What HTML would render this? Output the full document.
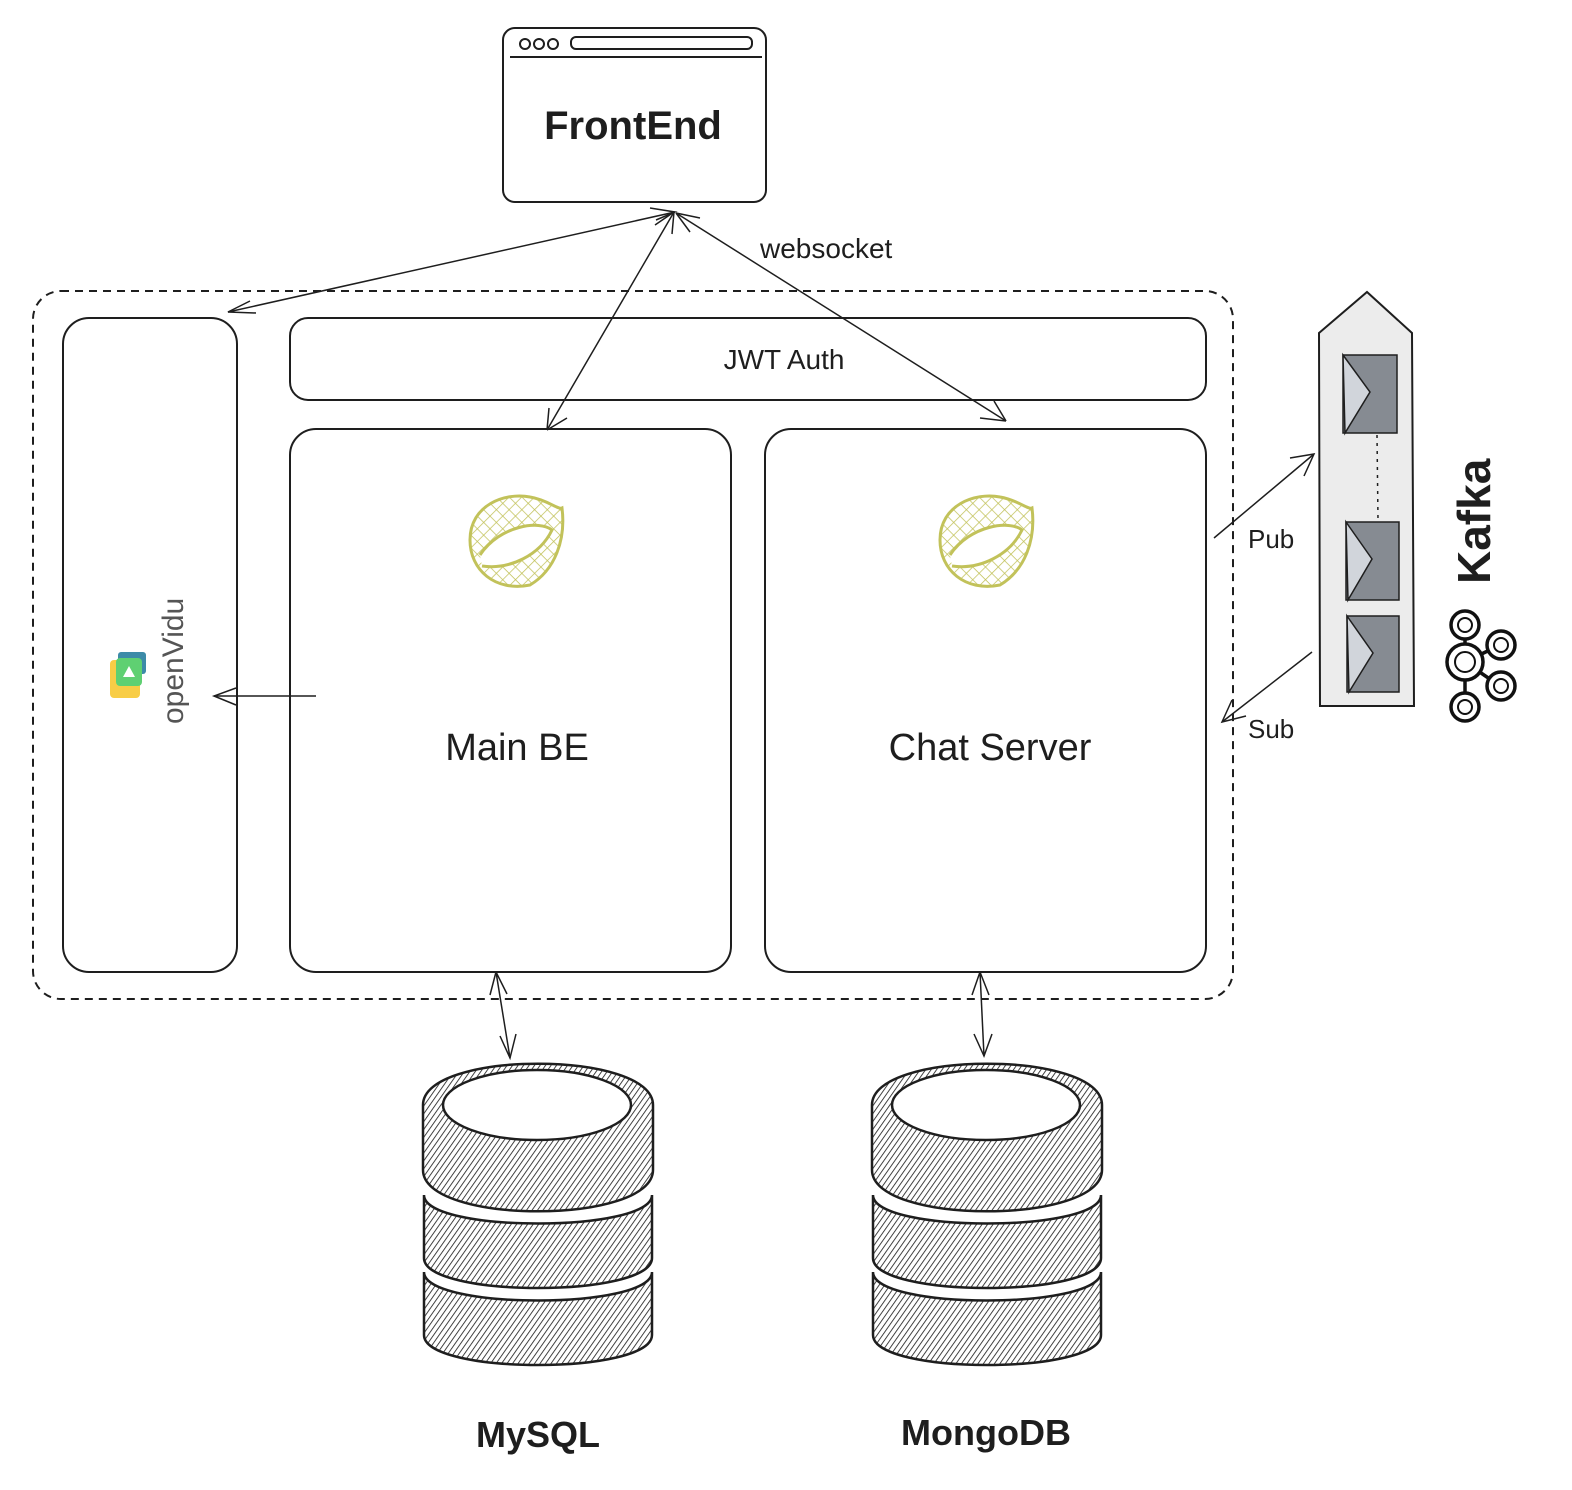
<!DOCTYPE html>
<html><head><meta charset="utf-8"><style>
html,body{margin:0;padding:0;background:#fff;}
svg{display:block;}
text{font-family:"Liberation Sans","DejaVu Sans",sans-serif;fill:#1e1e1e;}
</style></head><body>
<svg width="1572" height="1490" viewBox="0 0 1572 1490" xmlns="http://www.w3.org/2000/svg">
<defs>
<pattern id="h" patternUnits="userSpaceOnUse" width="4.5" height="4.5" patternTransform="rotate(35)">
<rect width="4.5" height="4.5" fill="#fff"/>
<line x1="0" y1="0" x2="0" y2="4.5" stroke="#222" stroke-width="1.7"/>
</pattern>
<pattern id="g" patternUnits="userSpaceOnUse" width="9" height="9" patternTransform="rotate(45)">
<line x1="0" y1="0" x2="0" y2="9" stroke="#c2c25a" stroke-width="1.5"/>
<line x1="0" y1="0" x2="9" y2="0" stroke="#c2c25a" stroke-width="1.5"/>
</pattern>
</defs>
<g fill="none" stroke="#1e1e1e" stroke-width="2">
<rect x="503" y="28" width="263" height="174" rx="12" fill="#fff"/>
<line x1="510" y1="57" x2="762" y2="57"/>
<circle cx="525" cy="44" r="5"/><circle cx="539" cy="44" r="5"/><circle cx="553" cy="44" r="5"/>
<rect x="571" y="37" width="181" height="12" rx="5"/>
<rect x="33" y="291" width="1200" height="708" rx="28" stroke-dasharray="8 6"/>
<rect x="63" y="318" width="174" height="654" rx="26"/>
<rect x="290" y="318" width="916" height="82" rx="18"/>
<rect x="290" y="429" width="441" height="543" rx="26"/>
<rect x="765" y="429" width="441" height="543" rx="26"/>
</g>
<g fill="none" stroke="#1e1e1e" stroke-width="1.5">
<path d="M228 312 L675 212"/><path d="M250 301 L228 312 L256 313"/><path d="M650 208 L675 212 L656 220"/>
<path d="M547 430 L674 212"/><path d="M547 430 L549 408 M547 430 L567 418"/><path d="M674 212 L672 234 M674 212 L655 225"/>
<path d="M676 213 L1006 421"/><path d="M1006 421 L980 418 M1006 421 L994 401"/><path d="M676 213 L700 218 M676 213 L690 232"/>
<path d="M316 696 L214 696"/><path d="M236 688 L214 696 L236 705"/>
<path d="M496 972 L510 1058"/><path d="M500 1036 L510 1058 L516 1034 M496 972 L490 995 M496 972 L507 994"/>
<path d="M980 972 L984 1056"/><path d="M974 1034 L984 1056 L992 1034 M980 972 L972 995 M980 972 L989 995"/>
<path d="M1214 538 L1314 454"/><path d="M1290 458 L1314 454 L1304 476"/>
<path d="M1312 652 L1222 722"/><path d="M1232 700 L1222 722 L1246 716"/>
</g>
<text x="633" y="139" font-size="40" text-anchor="middle" font-weight="bold">FrontEnd</text>
<text x="760" y="258" font-size="28">websocket</text>
<text x="784" y="369" font-size="28" text-anchor="middle">JWT Auth</text>
<text x="517" y="760" font-size="38" text-anchor="middle">Main BE</text>
<text x="990" y="760" font-size="38" text-anchor="middle">Chat Server</text>
<text x="1248" y="548" font-size="26">Pub</text>
<text x="1248" y="738" font-size="26">Sub</text>
<text x="538" y="1447" font-size="36" text-anchor="middle" font-weight="bold">MySQL</text>
<text x="986" y="1445" font-size="36" text-anchor="middle" font-weight="bold">MongoDB</text>
<rect x="110" y="660" width="30" height="38" rx="4" fill="#f8cd46"/>
<rect x="118" y="652" width="28" height="22" rx="3" fill="#3d8ba8"/>
<rect x="116" y="658" width="26" height="28" rx="4" fill="#5fd072"/>
<path d="M123 677 L129 666 L135 677Z" fill="#fff"/>
<text transform="translate(183 724) rotate(-90)" font-size="30" style="fill:#555">openVidu</text>
<g>
<path d="M470 540 C470 505 505 492 530 497 C548 500 558 510 562 508 C566 540 555 570 530 585 C495 592 470 570 470 540Z" fill="url(#g)" stroke="#c2c25a" stroke-width="3"/>
<path d="M480 555 C500 525 540 520 552 530 C540 555 510 570 482 566" fill="#fff" stroke="#c2c25a" stroke-width="3"/>
</g>
<g transform="translate(470 0)">
<path d="M470 540 C470 505 505 492 530 497 C548 500 558 510 562 508 C566 540 555 570 530 585 C495 592 470 570 470 540Z" fill="url(#g)" stroke="#c2c25a" stroke-width="3"/>
<path d="M480 555 C500 525 540 520 552 530 C540 555 510 570 482 566" fill="#fff" stroke="#c2c25a" stroke-width="3"/>
</g>
<path d="M1319 333 L1367 292 L1412 333 L1414 706 L1320 706Z" fill="#ececec" stroke="#1e1e1e" stroke-width="2"/>
<g stroke="#1e1e1e" stroke-width="1.5">
<rect x="1343" y="355" width="54" height="78" fill="#868b92"/><path d="M1343 355 L1370 392 L1345 433Z" fill="#d1d5db"/>
<rect x="1346" y="522" width="53" height="78" fill="#868b92"/><path d="M1346 522 L1372 559 L1348 600Z" fill="#d1d5db"/>
<rect x="1347" y="616" width="52" height="76" fill="#868b92"/><path d="M1347 616 L1373 653 L1349 692Z" fill="#d1d5db"/>
<line x1="1377" y1="435" x2="1378" y2="520" stroke-dasharray="3 5"/>
</g>
<text transform="translate(1490 584) rotate(-90)" font-size="46" font-weight="bold">Kafka</text>
<g fill="#fff" stroke="#111" stroke-width="3.5">
<line x1="1465" y1="625" x2="1465" y2="707"/><line x1="1465" y1="662" x2="1500" y2="645"/><line x1="1465" y1="662" x2="1500" y2="686"/>
<circle cx="1465" cy="625" r="14"/><circle cx="1465" cy="662" r="18"/><circle cx="1465" cy="707" r="14"/>
<circle cx="1501" cy="645" r="14"/><circle cx="1501" cy="686" r="14"/>
<circle cx="1465" cy="625" r="7" stroke-width="2"/><circle cx="1465" cy="662" r="10" stroke-width="2"/><circle cx="1465" cy="707" r="7" stroke-width="2"/>
<circle cx="1501" cy="645" r="7" stroke-width="2"/><circle cx="1501" cy="686" r="7" stroke-width="2"/>
</g>
<g id="db" stroke="#1e1e1e" stroke-width="2.5" fill="url(#h)">
<path d="M424 1272 L424 1335 C424 1375 652 1375 652 1335 L652 1272 C652 1310 424 1310 424 1272Z"/>
<path d="M424 1195 L424 1258 C424 1298 652 1298 652 1258 L652 1195 C652 1233 424 1233 424 1195Z"/>
<path d="M423 1105 C423 1050 653 1050 653 1105 L653 1170 C653 1225 423 1225 423 1170Z"/>
<ellipse cx="537" cy="1105" rx="94" ry="35" fill="#fff"/>
</g>
<use href="#db" transform="translate(449 0)"/>
</svg>
</body></html>
